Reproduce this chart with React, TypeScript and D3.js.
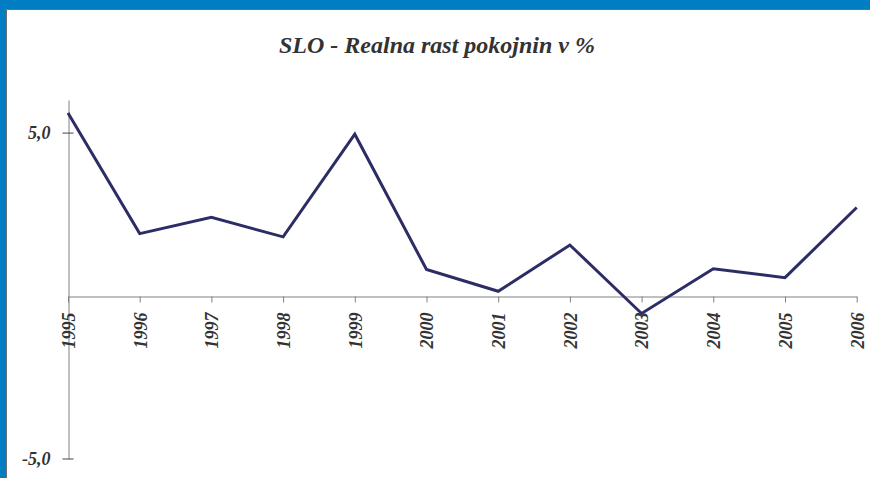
import React, { useEffect, useRef } from "react";
import * as d3 from "d3";

const years = ["1995", "1996", "1997", "1998", "1999", "2000", "2001", "2002", "2003", "2004", "2005", "2006"];
const growth = [5.6, 1.9, 2.4, 1.8, 4.95, 0.8, 0.13, 1.55, -0.55, 0.82, 0.55, 2.7];
const yTicks = [-5, 5];
const title = "SLO - Realna rast pokojnin v %";

const W = 870;
const H = 478;
const FONT = "Liberation Serif, Times New Roman, serif";

export default function App() {
  const ref = useRef<SVGSVGElement>(null);

  useEffect(() => {
    document.body.style.margin = "0";
    const svg = d3.select(ref.current);
    svg.selectAll("*").remove();

    // frame: blue band top and left with a thin grey edge
    svg.append("rect").attr("width", W).attr("height", H).attr("fill", "#fff");
    svg.append("rect").attr("x", 0).attr("y", 0).attr("width", W).attr("height", 9).attr("fill", "#007dc3");
    svg.append("rect").attr("x", 0).attr("y", 0).attr("width", 6).attr("height", H).attr("fill", "#007dc3");
    svg.append("line").attr("x1", 6.5).attr("x2", W).attr("y1", 9.5).attr("y2", 9.5).attr("stroke", "#6e6e6e");
    svg.append("line").attr("x1", 6.5).attr("x2", 6.5).attr("y1", 9.5).attr("y2", H).attr("stroke", "#6e6e6e");

    svg.append("text")
      .attr("x", 437)
      .attr("y", 53)
      .attr("text-anchor", "middle")
      .attr("font-family", FONT)
      .attr("font-weight", "bold")
      .attr("font-style", "italic")
      .attr("font-size", 24)
      .attr("fill", "#333")
      .text(title);

    const x = d3.scalePoint().domain(years).range([68, 856.7]);
    const y = d3.scaleLinear().domain([-5, 6]).range([458.5, 100]);

    // y axis
    const yAxis = svg.append("g")
      .attr("transform", "translate(68.5,0)")
      .call(d3.axisLeft(y).tickValues(yTicks).tickSize(6).tickSizeOuter(0)
        .tickFormat((d) => (d as number).toFixed(1).replace(".", ",")));
    yAxis.select(".domain").attr("stroke", "#808080");
    yAxis.selectAll(".tick line").attr("x2", 5).attr("x1", -6).attr("stroke", "#444");
    yAxis.selectAll(".tick text")
      .attr("x", -18)
      .attr("font-family", FONT)
      .attr("font-weight", "bold")
      .attr("font-style", "italic")
      .attr("font-size", 18)
      .attr("fill", "#333");

    // x axis at zero
    const xAxis = svg.append("g")
      .attr("transform", `translate(0,${Math.round(y(0)) + 0.5})`)
      .call(d3.axisBottom(x).tickSize(6).tickSizeOuter(0));
    xAxis.select(".domain").attr("stroke", "#808080");
    xAxis.selectAll(".tick line").attr("stroke", "#808080");
    xAxis.selectAll(".tick text")
      .attr("transform", "rotate(-90)")
      .attr("x", -16)
      .attr("y", 0)
      .attr("dy", "0.35em")
      .style("text-anchor", "end")
      .attr("font-family", FONT)
      .attr("font-weight", "bold")
      .attr("font-style", "italic")
      .attr("font-size", 18)
      .attr("fill", "#333");

    const line = d3.line<number>()
      .x((_, i) => x(years[i]) as number)
      .y((d) => y(d));

    svg.append("path")
      .datum(growth)
      .attr("d", line)
      .attr("fill", "none")
      .attr("stroke", "#2d2d66")
      .attr("stroke-width", 3)
      .attr("stroke-linejoin", "miter");
  }, []);

  return <svg ref={ref} width={W} height={H} style={{ display: "block" }} />;
}
